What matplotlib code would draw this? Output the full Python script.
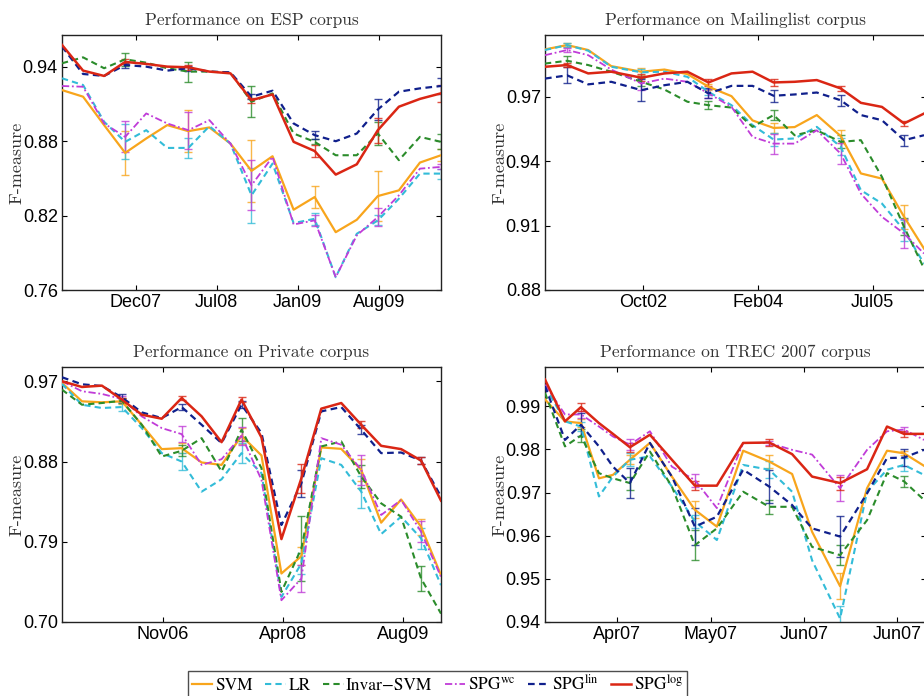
import numpy as np
import matplotlib
matplotlib.use("Agg")
import matplotlib.pyplot as plt

plt.rcParams["mathtext.fontset"] = "stix"

methods = ["SVM", "LR", "Invar\u2212SVM", r"SPG$^{\rm wc}$", r"SPG$^{\rm lin}$", r"SPG$^{\rm log}$"]
colors = ["#F8A51C", "#33BCD8", "#2B8C2B", "#C03CD8", "#10208C", "#DA2614"]
styles = ["-", (0, (3, 2)), (0, (3, 2)), (0, (4, 1.5, 1, 1.5)), (0, (3, 2)), "-"]
widths = [1.6, 1.5, 1.5, 1.3, 1.6, 1.8]

# ESP corpus (one point per test batch)
esp_xticks = [3.5, 7.35, 11.2, 15.06]
esp_xlabels = ["Dec07", "Jul08", "Jan09", "Aug09"]
esp_svm = [0.9211, 0.9158, 0.8929, 0.8705, 0.8821, 0.8929, 0.888, 0.891, 0.878, 0.856,
           0.8678, 0.8247, 0.8349, 0.8066, 0.8166, 0.8357, 0.8403, 0.8627, 0.8686]
esp_lr = [0.9306, 0.9252, 0.8956, 0.8794, 0.8888, 0.8745, 0.8745, 0.892, 0.878, 0.8363,
          0.8619, 0.8139, 0.8174, 0.7703, 0.8053, 0.8161, 0.8336, 0.8538, 0.8538]
esp_inv = [0.9427, 0.9475, 0.9387, 0.9459, 0.9432, 0.9387, 0.936, 0.936, 0.9352, 0.9117,
           0.9184, 0.8861, 0.8794, 0.8686, 0.8686, 0.8861, 0.8646, 0.8834, 0.8794]
esp_wc = [0.9244, 0.9238, 0.8942, 0.8834, 0.9023, 0.8942, 0.8888, 0.8969, 0.878, 0.8444,
          0.8673, 0.8128, 0.8161, 0.7703, 0.804, 0.8188, 0.8363, 0.8578, 0.8592]
esp_lin = [0.9562, 0.9341, 0.9325, 0.9413, 0.940, 0.9368, 0.9387, 0.936, 0.9354, 0.9158,
           0.9206, 0.8942, 0.8848, 0.8799, 0.8861, 0.9055, 0.9198, 0.9225, 0.9244]
esp_log = [0.9575, 0.9368, 0.9325, 0.9438, 0.9422, 0.940, 0.9395, 0.936, 0.9346, 0.913,
           0.9176, 0.8794, 0.872, 0.853, 0.8613, 0.8888, 0.9077, 0.914, 0.9185]
esp_err_idx = [3, 6, 9, 12, 15, 18]
esp_err = [
    [0.018, 0.017, 0.025, 0.009, 0.02, 0.005],
    [0.014, 0.008, 0.022, 0.005, 0.004, 0.004],
    [0.005, 0.008, 0.0125, 0.002, 0.009, 0.006],
    [0.0125, 0.015, 0.02, 0.0045, 0.007, 0.002],
    [0.002, 0.002, 0.002, 0.003, 0.0085, 0.0065],
    [0.002, 0.002, 0.002, 0.005, 0.01, 0.007],
]

# Mailinglist corpus
mail_x = [0, 1.0, 1.95, 2.99, 4.35, 5.39, 6.43, 7.38, 8.42, 9.37, 10.32, 11.27, 12.27,
          13.35, 14.26, 15.21, 16.21, 17.11]
mail_xticks = [4.44, 9.6, 14.8]
mail_xlabels = ["Oct02", "Feb04", "Jul05"]
mail_svm = [0.9921, 0.9941, 0.9918, 0.9843, 0.9817, 0.9827, 0.9806, 0.9747, 0.9703, 0.959,
            0.9555, 0.9559, 0.9615, 0.9517, 0.9343, 0.9319, 0.9141, 0.8993]
mail_lr = [0.9918, 0.9941, 0.9915, 0.984, 0.9814, 0.9817, 0.9793, 0.9723, 0.9661, 0.9568,
           0.9501, 0.9506, 0.956, 0.9467, 0.9265, 0.9203, 0.9078, 0.8923]
mail_inv = [0.9855, 0.9868, 0.9848, 0.9817, 0.977, 0.9734, 0.9677, 0.9661, 0.965, 0.956,
            0.9615, 0.9521, 0.9544, 0.949, 0.9498, 0.9327, 0.9094, 0.89]
mail_wc = [0.9894, 0.9918, 0.9894, 0.9827, 0.9762, 0.9785, 0.977, 0.9716, 0.9653, 0.9513,
           0.9482, 0.9482, 0.9544, 0.9435, 0.9249, 0.9141, 0.9063, 0.897]
mail_lin = [0.9785, 0.980, 0.9758, 0.977, 0.9731, 0.9754, 0.977, 0.9716, 0.9751, 0.9751,
            0.9705, 0.9711, 0.972, 0.9684, 0.9615, 0.9591, 0.9498, 0.9521]
mail_log = [0.984, 0.9848, 0.9809, 0.9817, 0.9789, 0.9809, 0.9817, 0.9767, 0.9809, 0.9817,
            0.9767, 0.977, 0.9778, 0.9739, 0.9672, 0.9653, 0.9576, 0.9622]
mail_err_idx = [1, 4, 7, 10, 13, 16]
mail_err = [
    [0.0008, 0.0015, 0.0015, 0.0025, 0.003, 0.0055],
    [0.0008, 0.0015, 0.0015, 0.003, 0.004, 0.005],
    [0.002, 0.002, 0.002, 0.0023, 0.003, 0.004],
    [0.001, 0.003, 0.002, 0.0047, 0.005, 0.0066],
    [0.0037, 0.005, 0.0023, 0.0027, 0.0026, 0.0026],
    [0.001, 0.0015, 0.0015, 0.0015, 0.0012, 0.0012],
]

# Private corpus
pri_xticks = [5.04, 11.09, 17.1]
pri_xlabels = ["Nov06", "Apr08", "Aug09"]
pri_svm = [0.9681, 0.9475, 0.9464, 0.9475, 0.9212, 0.8939, 0.895, 0.8789, 0.8762, 0.9089,
           0.8868, 0.7544, 0.7739, 0.8958, 0.8942, 0.8706, 0.8114, 0.8374, 0.8069, 0.7525]
pri_lr = [0.967, 0.9437, 0.94, 0.9411, 0.9175, 0.8894, 0.88, 0.8462, 0.8601, 0.8894,
          0.8669, 0.7281, 0.7656, 0.8837, 0.8762, 0.8462, 0.7986, 0.8181, 0.7939, 0.7413]
pri_inv = [0.9606, 0.9437, 0.9456, 0.9482, 0.9212, 0.8856, 0.892, 0.9062, 0.8688, 0.9156,
           0.8725, 0.7338, 0.7825, 0.8969, 0.9025, 0.8631, 0.8331, 0.8181, 0.7488, 0.7094]
pri_wc = [0.97, 0.9588, 0.9558, 0.9501, 0.9306, 0.9175, 0.9107, 0.8762, 0.8826, 0.9089,
          0.8594, 0.7244, 0.7488, 0.9062, 0.8988, 0.8706, 0.82, 0.8369, 0.8012, 0.7506]
pri_lin = [0.9745, 0.9666, 0.9647, 0.952, 0.9351, 0.9287, 0.9411, 0.9212, 0.9006, 0.9437,
           0.9119, 0.8088, 0.8556, 0.9362, 0.9411, 0.9156, 0.8894, 0.8901, 0.8811, 0.8406]
pri_log = [0.97, 0.9636, 0.9651, 0.9494, 0.9325, 0.928, 0.9512, 0.9306, 0.9017, 0.9494,
           0.907, 0.793, 0.8612, 0.9393, 0.9456, 0.9212, 0.8976, 0.8939, 0.8811, 0.8361]
pri_err_idx = [3, 6, 9, 12, 15, 18]
pri_err = [
    [0.003, 0.006, 0.009, 0.01, 0.012, 0.009],
    [0.004, 0.01, 0.011, 0.012, 0.018, 0.012],
    [0.003, 0.006, 0.013, 0.036, 0.013, 0.014],
    [0.003, 0.009, 0.01, 0.015, 0.017, 0.012],
    [0.004, 0.003, 0.004, 0.015, 0.005, 0.004],
    [0.002, 0.002, 0.003, 0.016, 0.004, 0.004],
]

# TREC 2007 corpus (x in days)
trec_x = [0, 6, 10.8, 16.2, 20.4, 25.5, 31.5, 38.1, 45, 51.6, 59.5, 67.3, 74.2, 80.2,
          88.6, 96.7, 102.7, 107.8, 113.8]
trec_xticks = [21.6, 49.8, 77.8, 105.7]
trec_xlabels = ["Apr07", "May07", "Jun07", "Jun07"]
trec_svm = [0.9916, 0.9865, 0.9861, 0.9733, 0.9741, 0.9776, 0.9815, 0.9737, 0.966, 0.9621,
            0.9797, 0.9772, 0.9743, 0.9609, 0.9483, 0.971, 0.9797, 0.9791, 0.9762]
trec_lr = [0.9947, 0.9865, 0.9853, 0.9691, 0.9737, 0.9776, 0.9784, 0.9714, 0.9633, 0.959,
           0.9764, 0.9753, 0.9702, 0.9543, 0.9408, 0.9702, 0.9753, 0.9764, 0.9741]
trec_inv = [0.9931, 0.9807, 0.9832, 0.9745, 0.9733, 0.9722, 0.9795, 0.9714, 0.9578, 0.9617,
            0.9702, 0.9667, 0.9667, 0.9574, 0.9555, 0.9636, 0.9745, 0.9726, 0.9683]
trec_wc = [0.995, 0.9881, 0.9881, 0.9853, 0.983, 0.9811, 0.9842, 0.976, 0.9729, 0.9664,
           0.9815, 0.9815, 0.9799, 0.9788, 0.971, 0.9799, 0.9842, 0.9846, 0.9822]
trec_lin = [0.9947, 0.9822, 0.9857, 0.9807, 0.976, 0.9722, 0.9815, 0.9737, 0.9621, 0.9644,
            0.9753, 0.9714, 0.9671, 0.9617, 0.9598, 0.9698, 0.978, 0.9781, 0.9799]
trec_log = [0.9962, 0.9865, 0.9898, 0.9861, 0.9836, 0.9805, 0.9834, 0.9776, 0.9716, 0.9716,
            0.9815, 0.9816, 0.9789, 0.9737, 0.9722, 0.9754, 0.9853, 0.9836, 0.9836]
trec_err_idx = [2, 5, 8, 11, 14, 17]
trec_err = [
    [0.001, 0.001, 0.002, 0.0015, 0.003, 0.0005],
    [0.001, 0.0015, 0.0015, 0.002, 0.003, 0.0015],
    [0.0015, 0.0015, 0.0035, 0.0016, 0.0024, 0.0012],
    [0.0008, 0.0012, 0.0015, 0.0005, 0.003, 0.0006],
    [0.0027, 0.0035, 0.0043, 0.0039, 0.0047, 0.002],
    [0.001, 0.001, 0.001, 0.0009, 0.0015, 0.0007],
]

W, H = 924, 696


def px_axes(fig, left, top, width, height):
    return fig.add_axes([left / W, 1 - (top + height) / H, width / W, height / H])


def draw_panel(ax, x, series, err_idx, errs, title, xticks, xlabels, xlim, ylim, yticks):
    x = np.asarray(x, dtype=float)
    handles = []
    for vals, err, c, ls, lw in zip(series, errs, colors, styles, widths):
        vals = np.asarray(vals)
        ax.errorbar(x[err_idx], vals[err_idx], yerr=err, fmt="none", ecolor=c,
                    elinewidth=1.0, capsize=3, capthick=1.0, alpha=0.8, zorder=2)
        line, = ax.plot(x, vals, color=c, linestyle=ls, linewidth=lw, zorder=3)
        handles.append(line)
    ax.set_xlim(*xlim)
    ax.set_ylim(*ylim)
    ax.set_xticks(xticks)
    ax.set_xticklabels(xlabels)
    ax.set_yticks(yticks)
    ax.set_yticklabels(["%.2f" % v for v in yticks])
    ax.tick_params(direction="in", top=True, right=True, length=3.5, width=0.8,
                   labelsize=13, pad=3)
    for lab in ax.get_xticklabels() + ax.get_yticklabels():
        lab.set_fontfamily("Liberation Sans")
    for sp in ax.spines.values():
        sp.set_linewidth(1.0)
        sp.set_color("#222222")
    ax.set_title(title, fontfamily="cmr10", fontsize=12.5, pad=7, color="#333333")
    ax.set_ylabel("F-measure", fontfamily="cmr10", fontsize=13, labelpad=-1.5, color="#333333")
    return handles


fig = plt.figure(figsize=(W / 100, H / 100), dpi=100)

ax1 = px_axes(fig, 62, 35, 379, 255)
ax2 = px_axes(fig, 545, 35, 381, 255)
ax3 = px_axes(fig, 62, 367, 379, 255)
ax4 = px_axes(fig, 545, 367, 381, 255)

idx = np.arange(len(esp_svm))
handles = draw_panel(ax1, idx, [esp_svm, esp_lr, esp_inv, esp_wc, esp_lin, esp_log],
                     esp_err_idx, esp_err, "Performance on ESP corpus",
                     esp_xticks, esp_xlabels, (0, 18), (0.76, 0.9655), [0.76, 0.82, 0.88, 0.94])

draw_panel(ax2, mail_x, [mail_svm, mail_lr, mail_inv, mail_wc, mail_lin, mail_log],
           mail_err_idx, mail_err, "Performance on Mailinglist corpus",
           mail_xticks, mail_xlabels, (0, 17.2), (0.88, 0.9988), [0.88, 0.91, 0.94, 0.97])

idx = np.arange(len(pri_svm))
draw_panel(ax3, idx, [pri_svm, pri_lr, pri_inv, pri_wc, pri_lin, pri_log],
           pri_err_idx, pri_err, "Performance on Private corpus",
           pri_xticks, pri_xlabels, (0, 19), (0.70, 0.986), [0.70, 0.79, 0.88, 0.97])

draw_panel(ax4, trec_x, [trec_svm, trec_lr, trec_inv, trec_wc, trec_lin, trec_log],
           trec_err_idx, trec_err, "Performance on TREC 2007 corpus",
           trec_xticks, trec_xlabels, (0, 114.4), (0.94, 0.9991),
           [0.94, 0.95, 0.96, 0.97, 0.98, 0.99])

leg = fig.legend(handles, methods, loc="upper center", ncol=6,
                 bbox_to_anchor=(437.5 / W, 1 - 671 / H),
                 prop={"family": "STIXGeneral", "size": 12.5},
                 frameon=True, fancybox=False, edgecolor="#222222",
                 handlelength=1.2, handletextpad=0.15, columnspacing=0.7,
                 borderpad=0.2, borderaxespad=0)
leg.get_frame().set_linewidth(1.0)

fig.savefig("out.png", dpi=100)
